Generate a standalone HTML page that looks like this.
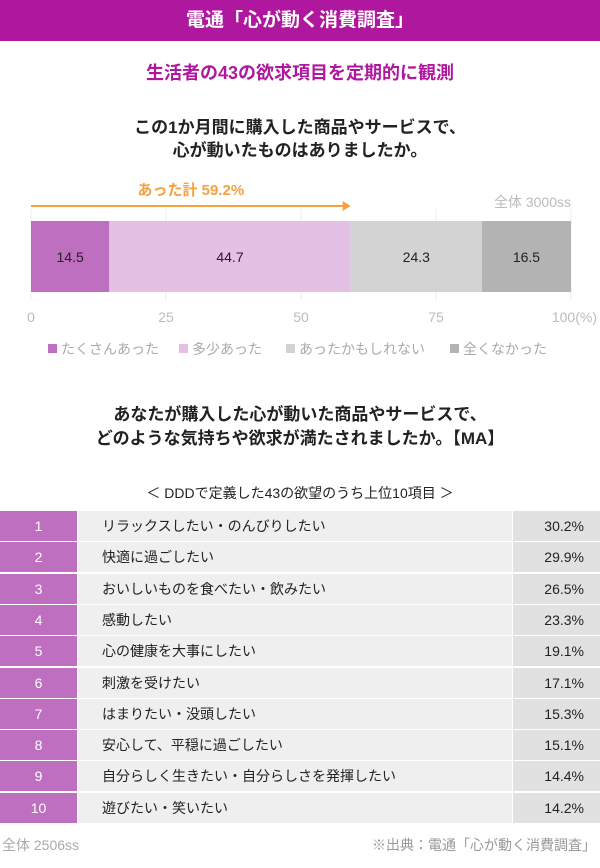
<!DOCTYPE html>
<html><head><meta charset="utf-8">
<style>
body{margin:0;width:600px;height:868px;background:#fff;font-family:"Liberation Sans","Noto Sans CJK JP",sans-serif;position:relative;overflow:hidden}
.a{position:absolute}
.c{text-align:center;left:0;width:600px}
</style></head><body>
<div class="a" style="left:0;top:0;width:600px;height:41px;background:#b0179f;color:#fff;font-size:19px;font-weight:bold;line-height:41px;text-align:center">電通「心が動く消費調査」</div>
<div class="a c" style="top:59px;font-size:18px;font-weight:bold;color:#b0179f">生活者の43の欲求項目を定期的に観測</div>
<div class="a c" style="top:116px;font-size:17px;font-weight:bold;line-height:23px;color:#222">この1か月間に購入した商品やサービスで、<br>心が動いたものはありましたか。</div>
<svg class="a" style="left:0;top:170px" width="600" height="200" id="ch"></svg>
<div class="a c" style="top:403px;font-size:17px;font-weight:bold;line-height:24px;color:#222">あなたが購入した心が動いた商品やサービスで、<br>どのような気持ちや欲求が満たされましたか。【MA】</div>
<div class="a c" style="top:483px;font-size:14px;color:#222">＜ DDDで定義した43の欲望のうち上位10項目 ＞</div>
<div class="a" id="tbl" style="left:0;top:511px;width:600px"></div>
<div class="a" style="left:2px;top:835px;font-size:14px;color:#aaa">全体 2506ss</div>
<div class="a" style="right:4px;top:835px;font-size:14px;color:#999">※出典：電通「心が動く消費調査」</div>
<script>
const segLabels=["たくさんあった","多少あった","あったかもしれない","全くなかった"];
const segValues=[14.5,44.7,24.3,16.5];
const segColors=["#bf6fc0","#e3c0e4","#d3d3d3","#b3b3b3"];
const ticks=[0,25,50,75,100];
const total=59.2;
const ranks=["1","2","3","4","5","6","7","8","9","10"];
const items=["リラックスしたい・のんびりしたい","快適に過ごしたい","おいしいものを食べたい・飲みたい","感動したい","心の健康を大事にしたい","刺激を受けたい","はまりたい・没頭したい","安心して、平穏に過ごしたい","自分らしく生きたい・自分らしさを発揮したい","遊びたい・笑いたい"];
const pcts=[30.2,29.9,26.5,23.3,19.1,17.1,15.3,15.1,14.4,14.2];
const NS="http://www.w3.org/2000/svg";
const svg=document.getElementById('ch');
const x=v=>31+v*5.4;
function mk(t,a,txt){const e=document.createElementNS(NS,t);for(const k in a)e.setAttribute(k,a[k]);if(txt!=null)e.textContent=txt;svg.appendChild(e);return e;}
ticks.forEach(t=>{
const l=mk('line',{x1:x(t),x2:x(t),y1:38,y2:130,stroke:'#eee'});

const tx=mk('text',{x:x(t),y:152,'text-anchor':'middle','font-size':14,fill:'#bbb'},t==100?'100(%)':t);
if(t==100){tx.setAttribute('x',597);tx.setAttribute('text-anchor','end');}

});
let acc=0;
segValues.forEach((v,i)=>{
const r=mk('rect',{x:x(acc),y:51,width:v*5.4,height:71,fill:segColors[i]});

const t=mk('text',{x:x(acc+v/2),y:92,'text-anchor':'middle','font-size':14,fill:'#222'},v.toFixed(1));

acc+=v;
});
const ar=mk('line',{x1:x(0),x2:x(total)-6,y1:36,y2:36,stroke:'#f7a13e','stroke-width':2});

const ah=mk('polygon',{points:`${x(total)},36 ${x(total)-8},31 ${x(total)-8},41`,fill:'#f7a13e'});

const at=mk('text',{x:x(total/2),y:25,'text-anchor':'middle','font-size':15,'font-weight':'bold',fill:'#f7a13e'},'あった計  '+total.toFixed(1)+'%');

const sz=mk('text',{x:571,y:37,'text-anchor':'end','font-size':14,fill:'#bbb'},'全体 3000ss');

const lx=[48,179,286,450];
segLabels.forEach((s,i)=>{
const r=mk('rect',{x:lx[i],y:174,width:9,height:9,fill:segColors[i]});

const t=mk('text',{x:lx[i]+13,y:184,'font-size':14,fill:'#aaa'},s);

});
const tbl=document.getElementById('tbl');
ranks.forEach((r,i)=>{
const row=document.createElement('div');


row.style.cssText='position:absolute;left:0;top:'+(i*31.3)+'px;width:600px;height:30px;font-size:14px;line-height:30px;color:#222';
row.innerHTML='<div style="position:absolute;left:0;width:77px;height:30px;background:#bf6fc0;color:#fff;text-align:center">'+r+'</div><div style="position:absolute;left:78px;width:434px;height:30px;background:#efefef;padding-left:24px;box-sizing:border-box">'+items[i]+'</div><div style="position:absolute;left:513px;width:87px;height:30px;background:#e1e1e1;text-align:right;padding-right:16px;box-sizing:border-box">'+pcts[i].toFixed(1)+'%</div>';
tbl.appendChild(row);
});
</script>
</body></html>
